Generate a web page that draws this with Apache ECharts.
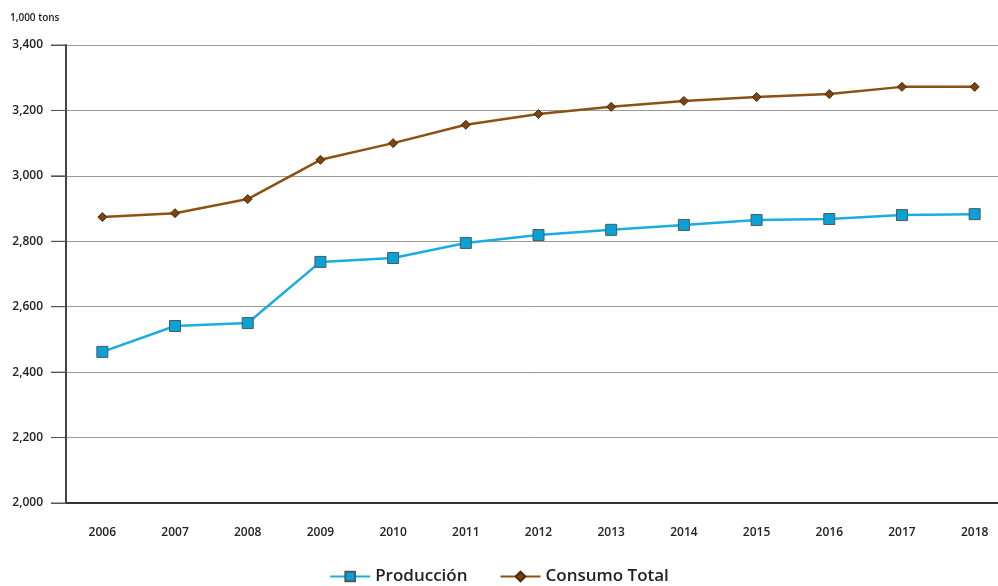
<!DOCTYPE html>
<html lang="en">
<head>
	<meta charset="UTF-8">
	<title>Producción y Consumo</title>
	<script src="https://cdn.jsdelivr.net/npm/echarts@6/dist/echarts.min.js"></script>
</head>
<style>
	html, body { margin: 0; padding: 0; background: #fff; }
	#main { width: 998px; height: 586px; overflow: hidden; }
</style>
<body>
	<div id="main"></div>
	<script>
		var years = ['2006', '2007', '2008', '2009', '2010', '2011', '2012', '2013', '2014', '2015', '2016', '2017', '2018'];
		var produccion = [2462, 2541, 2550, 2737, 2749, 2795, 2819, 2835, 2850, 2865, 2868, 2880, 2883];
		var consumo = [2874, 2886, 2929, 3049, 3100, 3156, 3189, 3211, 3229, 3241, 3250, 3272, 3272];

		var myChart = echarts.init(document.getElementById('main'));
		var font = '"Open Sans", "DejaVu Sans", sans-serif';
		var option = {
			animation: false,
			textStyle: { fontFamily: font },
			// la rejilla sobrepasa el borde derecho como en el original
			grid: { left: 66, width: 945, top: 45, bottom: 83, outerBoundsMode: 'none', containLabel: false },
			legend: {
				top: 563,
				left: 'center',
				itemWidth: 40,
				itemHeight: 12,
				itemGap: 32,
				textStyle: { fontSize: 17, color: '#222', fontFamily: font, fontWeight: 600 },
				data: ['Producción', 'Consumo Total']
			},
			xAxis: {
				type: 'category',
				data: years,
				boundaryGap: true,
				axisLine: { lineStyle: { color: '#333', width: 2 } },
				axisTick: { alignWithLabel: true, length: 13, lineStyle: { color: '#555' } },
				axisLabel: { margin: 24, fontSize: 12, color: '#222', fontWeight: 600 }
			},
			yAxis: {
				type: 'value',
				min: 2000,
				max: 3400,
				interval: 200,
				name: '1,000 tons',
				nameLocation: 'end',
				nameGap: 22,
				nameTextStyle: { align: 'left', padding: [0, 0, 0, -56], fontSize: 10, color: '#222', fontWeight: 600 },
				axisLine: { show: true, lineStyle: { color: '#444', width: 2 } },
				axisTick: { show: true, length: 15, lineStyle: { color: '#555', width: 1 } },
				axisLabel: {
					margin: 0,
					fontSize: 12,
					color: '#222',
					fontWeight: 600,
					// la marca del eje se dibuja como parte de la etiqueta
					formatter: function (v) { return '{v|' + v.toLocaleString('en-US') + '}{t| }'; },
					rich: {
						v: { fontSize: 12, fontWeight: 600, color: '#222', padding: [0, 8, 0, 0], verticalAlign: 'middle' },
						t: { width: 15, height: 1, lineHeight: 1, fontSize: 1, backgroundColor: '#555', verticalAlign: 'middle' }
					}
				},
				splitLine: { lineStyle: { color: '#999', width: 1 } }
			},
			series: [
				{
					name: 'Producción',
					type: 'line',
					data: produccion,
					symbol: 'rect',
					symbolSize: 11,
					lineStyle: { color: '#1AADE0', width: 2.5 },
					itemStyle: { color: '#0AA2D6', borderColor: '#4a5a60', borderWidth: 1 }
				},
				{
					name: 'Consumo Total',
					type: 'line',
					data: consumo,
					symbol: 'diamond',
					symbolSize: 9,
					lineStyle: { color: '#8B5214', width: 2.5 },
					itemStyle: { color: '#7A4510', borderColor: '#4a2a08', borderWidth: 1 }
				}
			]
		};
		myChart.setOption(option);
	</script>
</body>
</html>
